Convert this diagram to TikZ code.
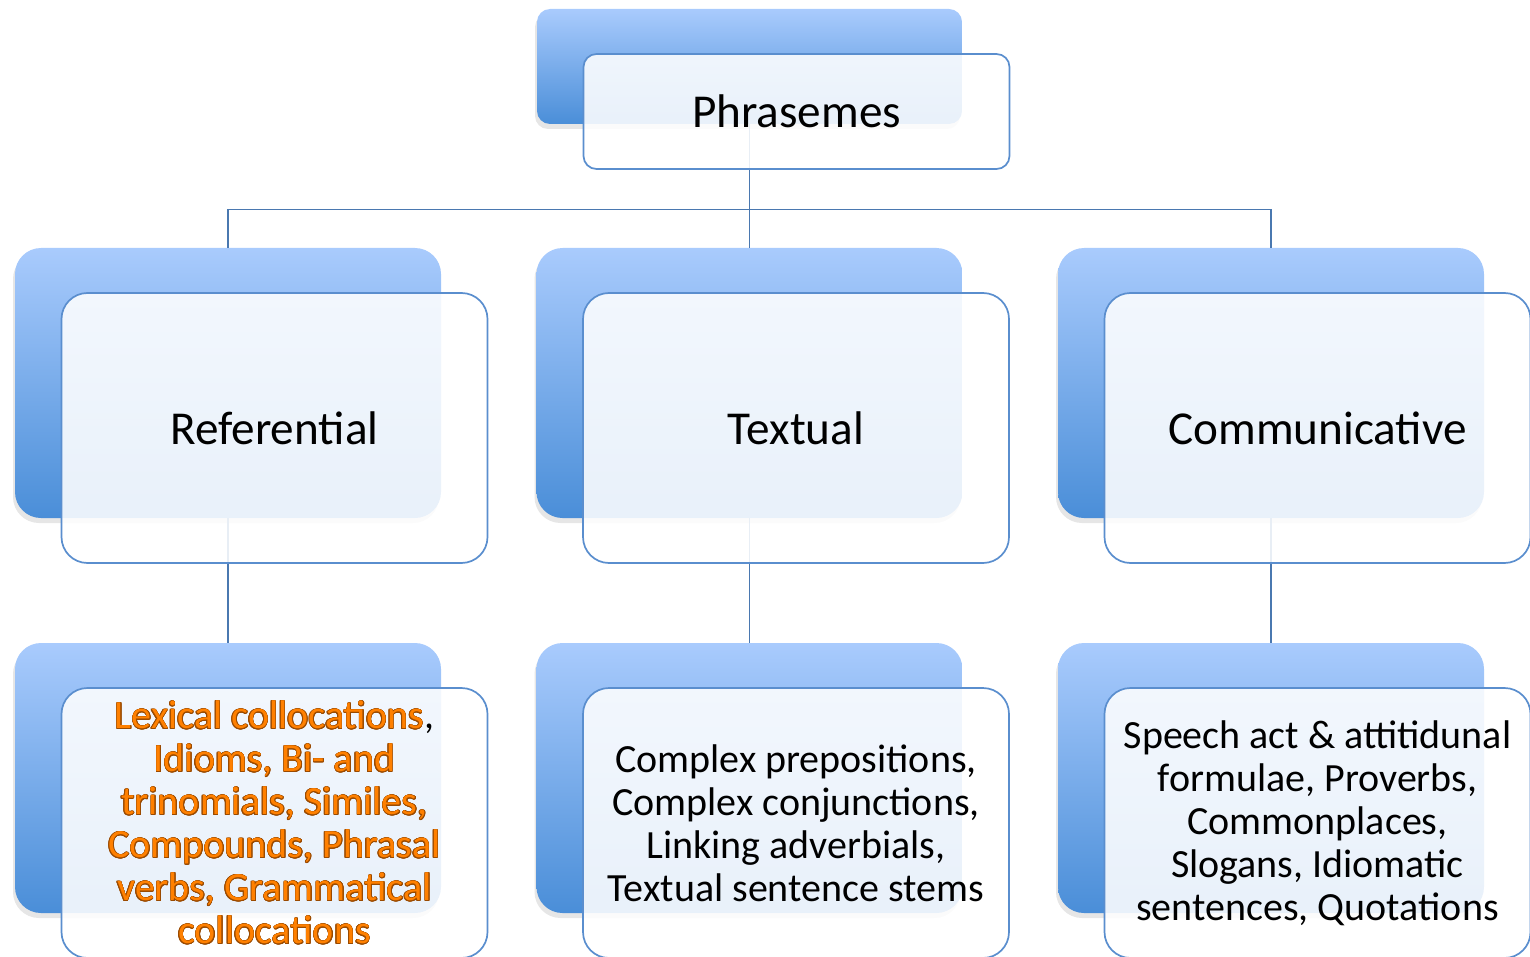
\documentclass[tikz,border=0pt]{standalone}
\usepackage{fontspec}
\setmainfont{Carlito}
\usepackage{xcolor}
\usepackage[copies]{contour}
\usepackage{tikz}
\usetikzlibrary{positioning, shadows}
\definecolor{boxtop}{HTML}{A9CBFD}
\definecolor{boxbot}{HTML}{4A8ED8}
\definecolor{edge}{HTML}{5A8ECE}
\definecolor{wire}{HTML}{4A78B0}
\definecolor{hilite}{HTML}{FF8000}
\definecolor{rim}{HTML}{9A4A00}
\contourlength{0.3pt}
\newcommand{\hl}[1]{\contour{rim}{\textcolor{hilite}{#1}}}

\begin{document}
\begin{tikzpicture}[
  x = 0.5pt, y = -0.5pt,
  back/.style  = {rectangle, rounded corners=13pt, minimum width=213pt, minimum height=135pt,
                  top color=boxtop, bottom color=boxbot,
                  drop shadow={shadow xshift=-1pt, shadow yshift=-2.5pt, opacity=.2}},
  front/.style = {rectangle, rounded corners=13pt, minimum width=213pt, minimum height=135pt,
                  draw=edge, line width=0.85pt, fill=white, fill opacity=.88, text opacity=1,
                  align=center, font=\fontsize{20}{21.5}\selectfont},
  head/.style  = {minimum height=57.5pt, rounded corners=6.5pt},
  title/.style = {font=\fontsize{23.6}{26}\selectfont},
  link/.style  = {draw=wire, line width=0.8pt},
]
  \useasboundingbox (0,0) rectangle (1530,957);

  % back cards
  \node[back, head, minimum width=212.5pt] (phrB) at (749.5,66.5) {};
  \node[back] (refB) at (228,383)    {};
  \node[back] (txtB) at (749.5,383)  {};
  \node[back] (comB) at (1271,383)   {};
  \node[back] (lexB) at (228,778)    {};
  \node[back] (conB) at (749.5,778)  {};
  \node[back] (spcB) at (1271,778)   {};

  % connectors
  \draw[link] (phrB.south) -- ++(0,85) -| (refB.north);
  \draw[link] (phrB.south) -- (txtB.north);
  \draw[link] (phrB.south) -- ++(0,85) -| (comB.north);
  \draw[link] (refB.south) -- (lexB.north);
  \draw[link] (txtB.south) -- (conB.north);
  \draw[link] (comB.south) -- (spcB.north);

  % front cards
  \node[front, head, title] (phr) at ([shift={(23.5pt,-22.5pt)}]phrB.center) {Phrasemes};
  \node[front, title] (ref) at ([shift={(23.25pt,-22.5pt)}]refB.center) {Referential};
  \node[front, title] (txt) at ([shift={(23.25pt,-22.5pt)}]txtB.center) {Textual};
  \node[front, title] (com) at ([shift={(23.25pt,-22.5pt)}]comB.center) {Communicative};
  \node[front] (lex) at ([shift={(23.25pt,-22.5pt)}]lexB.center)
        {\hl{Lexical collocations},\\ \hl{Idioms, Bi- and}\\ \hl{trinomials, Similes,}\\
         \hl{Compounds, Phrasal}\\ \hl{verbs, Grammatical}\\ \hl{collocations}};
  \node[front] (con) at ([shift={(23.25pt,-22.5pt)}]conB.center)
        {Complex prepositions,\\ Complex conjunctions,\\ Linking adverbials,\\ Textual sentence stems};
  \node[front] (spc) at ([shift={(23.25pt,-22.5pt)}]spcB.center)
        {Speech act \& attitidunal\\ formulae, Proverbs,\\ Commonplaces,\\ Slogans, Idiomatic\\ sentences, Quotations};
\end{tikzpicture}
\end{document}
